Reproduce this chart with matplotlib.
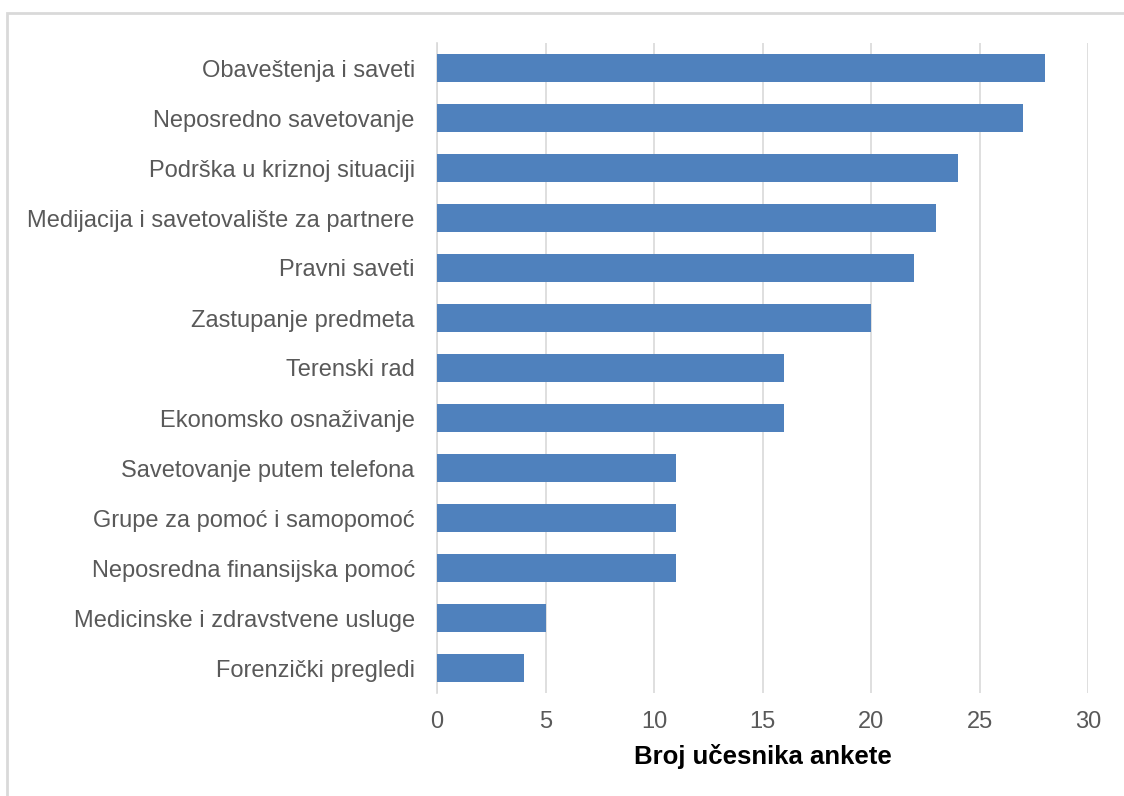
import matplotlib
matplotlib.use("Agg")
import matplotlib.pyplot as plt
from matplotlib.patches import Rectangle

categories = [
    "Obaveštenja i saveti",
    "Neposredno savetovanje",
    "Podrška u kriznoj situaciji",
    "Medijacija i savetovalište za partnere",
    "Pravni saveti",
    "Zastupanje predmeta",
    "Terenski rad",
    "Ekonomsko osnaživanje",
    "Savetovanje putem telefona",
    "Grupe za pomoć i samopomoć",
    "Neposredna finansijska pomoć",
    "Medicinske i zdravstvene usluge",
    "Forenzički pregledi",
]
values = [28, 27, 24, 23, 22, 20, 16, 16, 11, 11, 11, 5, 4]
xticks = [0, 5, 10, 15, 20, 25, 30]
xlabel = "Broj učesnika ankete"

plt.rcParams['font.family'] = ['Liberation Sans', 'DejaVu Sans']

fig = plt.figure(figsize=(11.24, 7.96), dpi=100)
fig.patches.append(Rectangle((7/1124, -0.1), 1.2, 1 - 13/796 + 0.1,
                             transform=fig.transFigure, fill=False,
                             edgecolor='#d9d9d9', linewidth=2))
ax = fig.add_axes([437/1124, 1 - 693/796, (1088 - 437)/1124, (693 - 43)/796])

y = list(range(len(categories)))
ax.barh(y, values, height=0.56, color='#4F81BD', zorder=3)
ax.set_ylim(len(categories) - 0.5, -0.5)
ax.set_xlim(0, 30)
ax.set_yticks(y)
ax.set_yticklabels(categories, fontsize=17, color='#595959')
ax.set_xticks(xticks)
ax.set_xticklabels([str(t) for t in xticks], fontsize=17, color='#595959')
ax.tick_params(axis='both', length=0)
ax.tick_params(axis='y', pad=16)
ax.tick_params(axis='x', pad=13)
ax.grid(axis='x', color='#d9d9d9', linewidth=1.2, zorder=0)
for s in ['top', 'right', 'bottom']:
    ax.spines[s].set_visible(False)
ax.spines['left'].set_color('#d9d9d9')
ax.spines['left'].set_linewidth(1.2)
ax.set_xlabel(xlabel, fontsize=18.5, fontweight='bold', color='black', labelpad=8)

fig.savefig("out.png", dpi=100)
